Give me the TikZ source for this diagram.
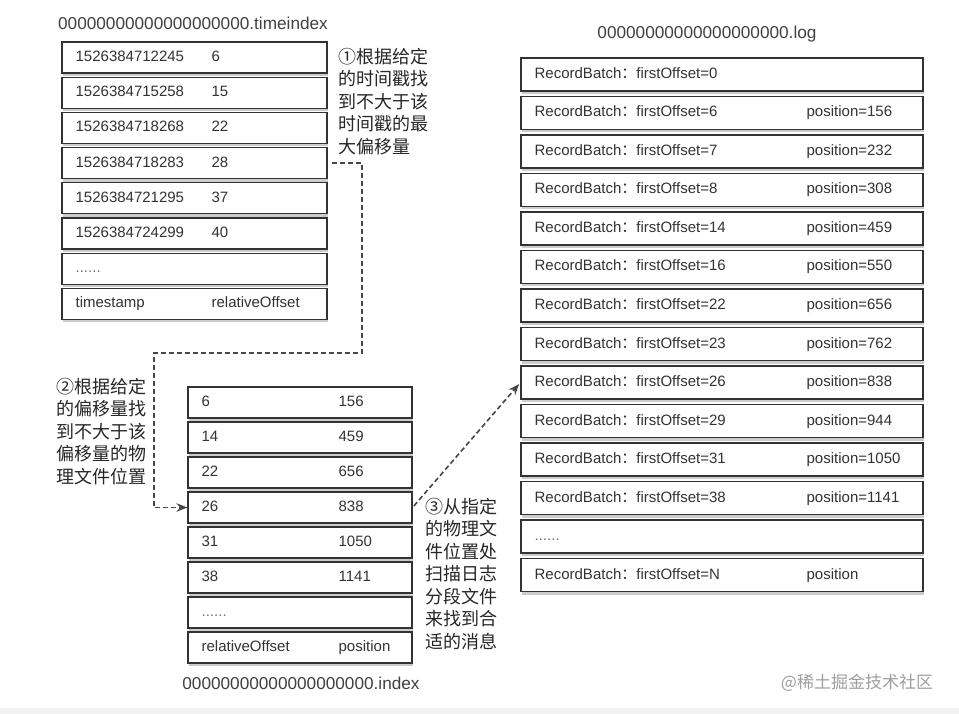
\documentclass[tikz,border=0pt]{standalone}
\usepackage{fontspec}
\setmainfont{Liberation Sans}
\newfontfamily\cjk{Noto Sans CJK SC}
\usetikzlibrary{arrows.meta,positioning,shadows}
\newcommand{\rb}[1]{RecordBatch{\cjk ：}firstOffset=#1}
\newcommand{\moredots}{{\color{black!55}......}}
\tikzset{
  rowbox/.style={draw=black!80,line width=1.1pt,fill=white,inner sep=0pt,drop shadow={shadow xshift=0.6pt,shadow yshift=-3pt,fill=black!40}},
  celltxt/.style={font=\fontsize{15}{18}\selectfont,text=black!80,inner sep=0pt,text height=11pt,text depth=3pt},
  filetitle/.style={font=\fontsize{17.2}{20}\selectfont,text=black!75,inner sep=0pt},
  note/.style={font=\cjk\fontsize{18}{22.5}\selectfont,text=black!85,align=left,inner sep=0pt,anchor=north west},
  link/.style={dashed,dash pattern=on 5pt off 3pt,line width=1.6pt,draw=black!72,-{Stealth[length=11pt,width=8.5pt]}}
}
\begin{document}
\begin{tikzpicture}[x=1pt,y=-1pt]
\useasboundingbox (0,0) rectangle (959,714);
\fill[black!5] (0,708) rectangle (959,714);
% timeindex file
\node[filetitle] (tname) at (193,23) {00000000000000000000.timeindex};
\foreach \k/\ts/\off in {1/1526384712245/6,2/1526384715258/15,3/1526384718268/22,4/1526384718283/28,5/1526384721295/37,6/1526384724299/40,7/\moredots/{},8/timestamp/relativeOffset}{
  \node[rowbox,minimum width=265pt,minimum height=31pt] (t\k) at (194.5,{57.5+35.2*(\k-1)}) {};
  \node[celltxt,right=14pt of t\k.west] {\ts};
  \node[celltxt,right=150pt of t\k.west] {\off};
}
% index file
\foreach \k/\rel/\pos in {1/6/156,2/14/459,3/22/656,4/26/838,5/31/1050,6/38/1141,7/\moredots/{},8/relativeOffset/position}{
  \node[rowbox,minimum width=224pt,minimum height=31pt] (i\k) at (300,{402.5+35*(\k-1)}) {};
  \node[celltxt,right=14pt of i\k.west] {\rel};
  \node[celltxt,right=151pt of i\k.west] {\pos};
}
\node[filetitle] (iname) at (301,683) {00000000000000000000.index};
% log file
\node[filetitle] (lname) at (707,34) {00000000000000000000.log};
\foreach \k/\lt/\rt in {1/\rb{0}/{},2/\rb{6}/position=156,3/\rb{7}/position=232,4/\rb{8}/position=308,5/\rb{14}/position=459,6/\rb{16}/position=550,7/\rb{22}/position=656,8/\rb{23}/position=762,9/\rb{26}/position=838,10/\rb{29}/position=944,11/\rb{31}/position=1050,12/\rb{38}/position=1141,13/\moredots/{},14/\rb{N}/position}{
  \node[rowbox,minimum width=402pt,minimum height=33pt] (l\k) at (722,{74.5+38.5*(\k-1)}) {};
  \node[celltxt,right=14pt of l\k.west] {\lt};
  \node[celltxt,right=286pt of l\k.west] {\rt};
}
% steps
\node[note] (note1) at (338,48) {①根据给定\\的时间戳找\\到不大于该\\时间戳的最\\大偏移量};
\node[note] (note2) at (56,378) {②根据给定\\的偏移量找\\到不大于该\\偏移量的物\\理文件位置};
\node[note] (note3) at (425,498) {③从指定\\的物理文\\件位置处\\扫描日志\\分段文件\\来找到合\\适的消息};
\coordinate (kneeA) at (362,353);
\coordinate (kneeB) at (154,353);
\draw[link,shorten <=4pt] (t4.east) -| (kneeA) -- (kneeB) |- (i4.west);
\draw[link,shorten <=2pt,shorten >=2pt] (i4.east) -- (l9.west);
\node[font=\cjk\fontsize{17}{20}\selectfont,text=black!38,inner sep=0pt] (mark) at (857,683) {@稀土掘金技术社区};
\end{tikzpicture}
\end{document}
